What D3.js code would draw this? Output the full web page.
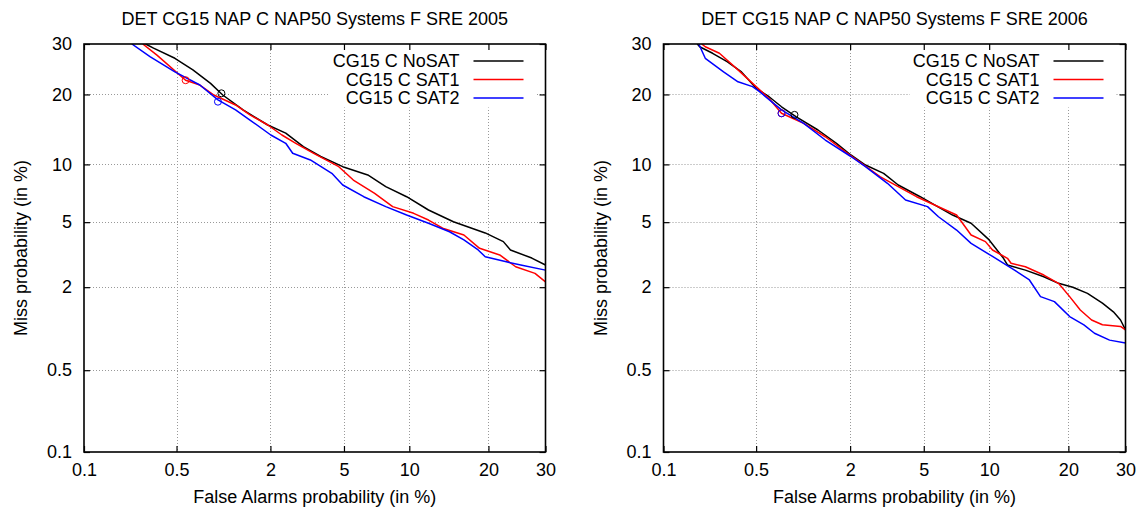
<!DOCTYPE html>
<html>
<head>
<meta charset="utf-8">
<script src="https://cdn.jsdelivr.net/npm/d3@7"></script>
<style>
body { margin: 0; background: #fff; }
svg { display: block; font-family: "Liberation Sans", Arial, sans-serif; }
</style>
</head>
<body>
<svg id="chart" width="1141" height="512"></svg>
<script>
// axis ticks (percent)
const tickValues = [0.1, 0.5, 2, 5, 10, 20, 30];
const tickLabels = ["0.1", "0.5", "2", "5", "10", "20", "30"];
const seriesNames = ["CG15 C NoSAT", "CG15 C SAT1", "CG15 C SAT2"];
const seriesColors = ["#000000", "#ff0000", "#0000ff"];

// SRE 2005 curves: [false alarm %, miss %]
const sre05NoSAT = [[0.30,30],[0.343,29.1],[0.487,26.95],[0.648,24.6],[0.85,22.0],[1.02,19.9],[1.37,17.4],[1.93,15.06],[2.45,13.9],[3.07,12.1],[3.80,10.9],[4.93,9.75],[6.52,8.88],[7.89,7.76],[9.74,6.88],[12.0,5.84],[15.0,5.03],[19.5,4.34],[22.4,3.86],[23.6,3.44],[27.4,3.07],[30,2.78]];
const sre05SAT1 = [[0.286,30],[0.363,27.6],[0.578,22.6],[0.722,21.7],[0.894,19.9],[1.23,18.2],[1.51,16.6],[1.93,15.06],[2.33,13.64],[2.79,12.53],[3.49,11.28],[4.71,9.75],[5.56,8.38],[7.02,7.17],[8.47,6.09],[10.43,5.60],[12.0,5.14],[13.65,4.62],[16.4,4.22],[18.65,3.52],[21.8,3.21],[24.5,2.71],[28.0,2.46],[30,2.17]];
const sre05SAT2 = [[0.237,30],[0.323,27.3],[0.487,24.2],[0.722,21.7],[0.95,19.05],[1.23,17.4],[1.51,15.8],[2.01,13.64],[2.45,12.53],[2.68,11.28],[3.35,10.5],[4.34,9.05],[4.93,7.91],[6.24,6.88],[7.89,6.09],[9.74,5.48],[12.0,4.93],[14.5,4.41],[16.4,3.95],[18.44,3.44],[19.5,3.13],[22.9,2.91],[25.4,2.78],[30,2.58]];
const sre05Dcf = [[1.0,20.2],[0.578,22.6],[0.95,18.75]];

// SRE 2006 curves
const sre06NoSAT = [[0.185,30],[0.193,29.4],[0.242,28.0],[0.31,26.25],[0.394,24.2],[0.50,21.1],[0.614,19.6],[0.745,17.9],[0.932,16.3],[1.28,14.34],[1.66,12.53],[2.02,11.08],[2.45,9.93],[3.09,9.05],[3.70,7.91],[4.80,6.88],[5.65,6.22],[6.88,5.48],[8.35,4.93],[10.0,3.95],[11.47,3.06],[11.9,2.78],[14.0,2.58],[16.4,2.34],[18.5,2.12],[20.7,2.0],[23.1,1.82],[25.7,1.56],[27.7,1.36],[29.05,1.19],[30,1.01]];
const sre06SAT1 = [[0.20,30],[0.213,29.4],[0.272,28.0],[0.372,24.6],[0.50,21.4],[0.614,19.3],[0.745,16.85],[1.04,15.3],[1.42,13.4],[1.93,11.28],[2.33,10.12],[2.95,8.71],[3.70,7.76],[4.60,6.88],[5.65,6.22],[7.18,5.48],[8.35,4.22],[9.64,3.86],[10.33,3.44],[11.9,3.06],[12.3,2.85],[14.0,2.71],[16.4,2.40],[18.5,2.12],[20.2,1.73],[21.9,1.40],[23.8,1.19],[25.7,1.10],[29.05,1.07],[30,1.01]];
const sre06SAT2 = [[0.19,30],[0.213,26.95],[0.292,24.2],[0.372,22.3],[0.472,21.4],[0.528,20.5],[0.745,17.4],[1.04,15.3],[1.42,12.96],[2.02,10.9],[2.45,9.75],[3.24,8.07],[4.04,6.61],[5.22,6.09],[5.90,5.36],[7.18,4.51],[8.35,3.77],[10.37,3.13],[12.7,2.58],[14.5,2.23],[15.95,1.73],[17.9,1.60],[20.2,1.26],[22.5,1.10],[24.3,0.955],[27.0,0.85],[30,0.81]];
const sre06Dcf = [[0.907,16.6],[0.745,16.85],[0.745,16.85]];

// inverse normal cdf (Acklam)
function probit(p) {
	const a = [-3.969683028665376e+01, 2.209460984245205e+02, -2.759285104469687e+02, 1.383577518672690e+02, -3.066479806614716e+01, 2.506628277459239e+00];
	const b = [-5.447609879822406e+01, 1.615858368580409e+02, -1.556989798598866e+02, 6.680131188771972e+01, -1.328068155288572e+01];
	const c = [-7.784894002430293e-03, -3.223964580411365e-01, -2.400758277161838e+00, -2.549732539343734e+00, 4.374664141464968e+00, 2.938163982698783e+00];
	const d = [7.784695709041462e-03, 3.224671290700398e-01, 2.445134137142996e+00, 3.754408661907416e+00];
	const plow = 0.02425;
	let q, r;
	if (p < plow) {
		q = Math.sqrt(-2 * Math.log(p));
		return (((((c[0]*q+c[1])*q+c[2])*q+c[3])*q+c[4])*q+c[5]) / ((((d[0]*q+d[1])*q+d[2])*q+d[3])*q+1);
	}
	if (p > 1 - plow) {
		q = Math.sqrt(-2 * Math.log(1 - p));
		return -(((((c[0]*q+c[1])*q+c[2])*q+c[3])*q+c[4])*q+c[5]) / ((((d[0]*q+d[1])*q+d[2])*q+d[3])*q+1);
	}
	q = p - 0.5; r = q * q;
	return (((((a[0]*r+a[1])*r+a[2])*r+a[3])*r+a[4])*r+a[5])*q / (((((b[0]*r+b[1])*r+b[2])*r+b[3])*r+b[4])*r+1);
}

const svg = d3.select("#chart");
svg.append("rect").attr("width", 1141).attr("height", 512).attr("fill", "#fff");

function drawPanel(cfg) {
	const g = svg.append("g"),
		fontSize = 18,
		tickLen = 6;
	const x = d3.scaleLinear().domain([probit(0.001), probit(0.3)]).range([cfg.left, cfg.right]),
		y = d3.scaleLinear().domain([probit(0.001), probit(0.3)]).range([cfg.bottom, cfg.top]);
	const px = v => x(probit(v / 100)),
		py = v => y(probit(v / 100));
	const ticks = tickValues.map(t => probit(t / 100));

	// grid
	const grid = g.append("g")
		.attr("stroke", "#999")
		.attr("stroke-width", 1)
		.attr("stroke-dasharray", "1,2");
	grid.selectAll(".gx").data(ticks.slice(1, -1)).join("line")
		.attr("x1", d => Math.round(x(d)) + 0.5).attr("x2", d => Math.round(x(d)) + 0.5)
		.attr("y1", cfg.top).attr("y2", cfg.bottom);
	grid.selectAll(".gy").data(ticks.slice(1, -1)).join("line")
		.attr("y1", d => Math.round(y(d)) + 0.5).attr("y2", d => Math.round(y(d)) + 0.5)
		.attr("x1", cfg.left).attr("x2", cfg.right);

	// curves
	const clipId = "clip" + cfg.id;
	g.append("clipPath").attr("id", clipId).append("rect")
		.attr("x", cfg.left).attr("y", cfg.top)
		.attr("width", cfg.right - cfg.left).attr("height", cfg.bottom - cfg.top);
	const line = d3.line().x(d => px(d[0])).y(d => py(d[1]));
	const curves = g.append("g").attr("clip-path", `url(#${clipId})`);
	curves.selectAll("path").data(cfg.series).join("path")
		.attr("d", line)
		.attr("fill", "none")
		.attr("stroke", (d, i) => seriesColors[i])
		.attr("stroke-width", 1.5)
		.attr("stroke-linejoin", "round");
	curves.selectAll("circle").data(cfg.dcf).join("circle")
		.attr("cx", d => px(d[0]))
		.attr("cy", d => py(d[1]))
		.attr("r", 3.5)
		.attr("fill", "none")
		.attr("stroke", (d, i) => seriesColors[i])
		.attr("stroke-width", 1);

	// legend
	const legend = g.append("g");
	const box = legend.append("rect").attr("fill", "#fff");
	const rowY = [61, 79.5, 98];
	const labels = legend.selectAll("text").data(seriesNames).join("text")
		.attr("x", cfg.right - 86)
		.attr("y", (d, i) => rowY[i])
		.attr("dy", "0.35em")
		.attr("text-anchor", "end")
		.attr("font-size", fontSize)
		.text(d => d);
	legend.selectAll("line").data(seriesNames).join("line")
		.attr("x1", cfg.right - 72).attr("x2", cfg.right - 22)
		.attr("y1", (d, i) => rowY[i]).attr("y2", (d, i) => rowY[i])
		.attr("stroke", (d, i) => seriesColors[i])
		.attr("stroke-width", 1.5);
	const minX = d3.min(labels.nodes(), n => n.getBBox().x);
	box.attr("x", minX - 3).attr("y", cfg.top + 1)
		.attr("width", cfg.right - 9.5 - (minX - 3))
		.attr("height", rowY[2] + 9.5 - cfg.top - 1);

	// axes
	const fmt = (d, i) => tickLabels[i];
	const bottom = g.append("g")
		.attr("transform", `translate(0,${cfg.bottom})`)
		.call(d3.axisBottom(x).tickValues(ticks).tickFormat(fmt).tickSizeInner(-tickLen).tickSizeOuter(0).tickPadding(11));
	const left = g.append("g")
		.attr("transform", `translate(${cfg.left},0)`)
		.call(d3.axisLeft(y).tickValues(ticks).tickFormat(fmt).tickSizeInner(-tickLen).tickSizeOuter(0).tickPadding(12));
	const top = g.append("g")
		.attr("transform", `translate(0,${cfg.top})`)
		.call(d3.axisTop(x).tickValues(ticks).tickFormat("").tickSizeInner(-tickLen).tickSizeOuter(0));
	const right = g.append("g")
		.attr("transform", `translate(${cfg.right},0)`)
		.call(d3.axisRight(y).tickValues(ticks).tickFormat("").tickSizeInner(-tickLen).tickSizeOuter(0));
	[bottom, left, top, right].forEach(a => {
		a.select(".domain").remove();
		a.selectAll("line").attr("stroke-width", 1.2);
		a.selectAll("text").attr("font-size", fontSize).attr("font-family", null).attr("fill", "#000");
	});

	g.append("rect")
		.attr("x", cfg.left).attr("y", cfg.top)
		.attr("width", cfg.right - cfg.left).attr("height", cfg.bottom - cfg.top)
		.attr("fill", "none").attr("stroke", "#000").attr("stroke-width", 1.6);

	// titles
	g.append("text")
		.attr("x", (cfg.left + cfg.right) / 2).attr("y", 25)
		.attr("text-anchor", "middle").attr("font-size", fontSize)
		.text(cfg.title);
	g.append("text")
		.attr("x", (cfg.left + cfg.right) / 2).attr("y", 503)
		.attr("text-anchor", "middle").attr("font-size", fontSize)
		.text("False Alarms probability (in %)");
	g.append("text")
		.attr("transform", `translate(${cfg.left - 57},${(cfg.top + cfg.bottom) / 2}) rotate(-90)`)
		.attr("text-anchor", "middle").attr("font-size", fontSize)
		.text("Miss probability (in %)");
}

drawPanel({
	id: "a", left: 84, right: 545.5, top: 44, bottom: 452,
	title: "DET CG15 NAP C NAP50 Systems F SRE 2005",
	series: [sre05NoSAT, sre05SAT1, sre05SAT2],
	dcf: sre05Dcf
});
drawPanel({
	id: "b", left: 663.5, right: 1125.5, top: 44, bottom: 452,
	title: "DET CG15 NAP C NAP50 Systems F SRE 2006",
	series: [sre06NoSAT, sre06SAT1, sre06SAT2],
	dcf: sre06Dcf
});
</script>
</body>
</html>
